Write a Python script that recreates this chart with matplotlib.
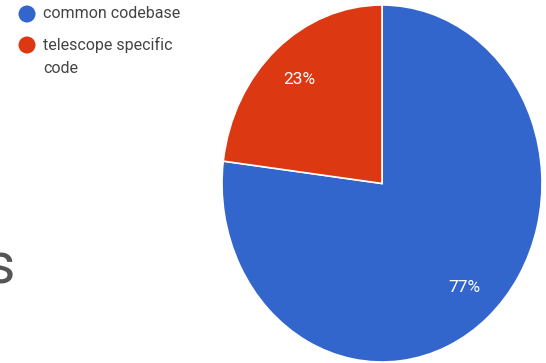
import matplotlib
matplotlib.use("Agg")
import matplotlib.pyplot as plt

# slice data, drawn clockwise from 12 o'clock
labels = ["common codebase", "telescope specific\ncode"]
shares = [77, 23]
colors = ["#3366CC", "#DC3912"]

W, H = 546, 363
plt.rcParams["font.family"] = ["Roboto", "DejaVu Sans"]

fig = plt.figure(figsize=(W / 100, H / 100), dpi=100)

# pie axes placed in pixel terms; the reference pie is slightly taller than wide
left, right, top, bottom = 222, 542, 5, 362
ax = fig.add_axes([left / W, 1 - bottom / H, (right - left) / W, (bottom - top) / H])
wedges, _, autotexts = ax.pie(
    shares, colors=colors, startangle=90, counterclock=False,
    autopct="%d%%", pctdistance=0.78,
    wedgeprops=dict(edgecolor="white", linewidth=1.2),
    textprops=dict(color="white", fontsize=12.5),
)
ax.set_aspect("auto")
ax.set_xlim(-1, 1)
ax.set_ylim(-1, 1)

# overlay in pixel coordinates for legend and stray text
ov = fig.add_axes([0, 0, 1, 1], zorder=5)
ov.set_xlim(0, W)
ov.set_ylim(H, 0)
ov.axis("off")

legend_y = [14, 45]
for y, lab, c in zip(legend_y, labels, colors):
    ov.scatter([27], [y], s=150, color=c, edgecolors="none")
    ov.text(43, y - 8, lab, fontsize=11.5, color="#444444", va="top", ha="left",
            linespacing=1.7)

# cut-off word fragment at left edge of slide
ov.text(15, 284, "s", fontsize=41, color="#555555", ha="right", va="baseline")

fig.savefig("out.png", dpi=100)
